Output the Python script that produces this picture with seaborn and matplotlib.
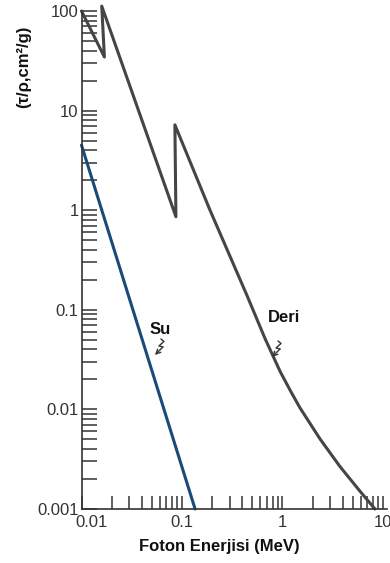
import numpy as np
import pandas as pd
import seaborn as sns
import matplotlib
matplotlib.use("Agg")
import matplotlib.pyplot as plt
import matplotlib.ticker as mticker
import matplotlib.transforms as mtransforms

# Photoelectric mass attenuation coefficient (tau/rho, cm^2/g) vs photon energy (MeV)
su_energy = [0.01, 0.135]
su_tau = [4.5, 0.001]

deri_energy = [0.01, 0.0169, 0.0159, 0.087, 0.085, 0.19, 0.441, 0.670,
               0.944, 1.19, 1.49, 2.36, 3.73, 5.90, 8.32]
deri_tau = [100, 34.5, 112, 0.86, 7.2, 1.0, 0.141, 0.0515,
            0.0242, 0.0156, 0.0104, 0.00506, 0.00267, 0.00151, 0.001]

y_ticks = [0.001, 0.01, 0.1, 1, 10, 100]
y_tick_labels = ["0.001", "0.01", "0.1", "1", "10", "100"]
x_ticks = [0.01, 0.1, 1, 10]
x_tick_labels = ["0.01", "0.1", "1", "10"]

# curve labels: text, text position, arrow tip position
curve_labels = [
    ("Su", (0.060, 0.064), (0.0538, 0.0352)),
    ("Deri", (1.035, 0.083), (0.787, 0.0336)),
]

su_df = pd.DataFrame({"energy": su_energy, "tau": su_tau})
deri_df = pd.DataFrame({"energy": deri_energy, "tau": deri_tau})

sns.set_theme(style="white")
plt.rcParams["font.family"] = ["Liberation Sans", "DejaVu Sans"]

fig = plt.figure(figsize=(3.9, 5.63), dpi=100)
ax = fig.add_axes([81.5 / 390, 1 - 509 / 563, (387 - 81.5) / 390, (509 - 11) / 563])
ax.set_xscale("log")
ax.set_yscale("log")
ax.set_xlim(0.01, 10 ** 1.04)
ax.set_ylim(0.001, 100)

sns.lineplot(data=deri_df, x="energy", y="tau", sort=False, estimator=None,
             color="#454545", linewidth=2.2, ax=ax, clip_on=False)
sns.lineplot(data=su_df, x="energy", y="tau", sort=False, estimator=None,
             color="#1b4a78", linewidth=2.2, ax=ax, clip_on=False)

# axes frame: only left and bottom
for side in ("top", "right"):
    ax.spines[side].set_visible(False)
for side in ("left", "bottom"):
    ax.spines[side].set_color("#333333")
    ax.spines[side].set_linewidth(1.2)

ax.yaxis.set_major_locator(mticker.FixedLocator(y_ticks))
ax.yaxis.set_major_formatter(mticker.FixedFormatter(y_tick_labels))
ax.yaxis.set_minor_locator(mticker.LogLocator(base=10, subs=np.arange(2, 10)))
ax.yaxis.set_minor_formatter(mticker.NullFormatter())
ax.xaxis.set_major_locator(mticker.FixedLocator(x_ticks))
# the first energy label is placed separately, nudged off the corner
ax.xaxis.set_major_formatter(mticker.FixedFormatter([""] + x_tick_labels[1:]))
ax.xaxis.set_minor_locator(mticker.LogLocator(base=10, subs=np.arange(2, 10)))
ax.xaxis.set_minor_formatter(mticker.NullFormatter())

ax.tick_params(axis="y", which="both", direction="in", length=10.8, width=1.1,
               color="#333333", labelsize=12, labelcolor="#333333", pad=2,
               left=True)
ax.tick_params(axis="x", which="both", direction="in", length=9.4, width=1.1,
               color="#333333", labelsize=12, labelcolor="#333333", pad=4,
               bottom=True)

ax.annotate(x_tick_labels[0], xy=(x_ticks[0], 0), xycoords=("data", "axes fraction"),
            xytext=(9.5, -6), textcoords="offset pixels", ha="center", va="top",
            fontsize=12, color="#333333")

ax.set_xlabel("Foton Enerjisi (MeV)", fontsize=12, fontweight="bold", color="#111111")
ax.xaxis.set_label_coords(0.45, -0.0743)
ax.xaxis.label.set_va("center")
ax.set_ylabel("(τ/ρ,cm²/g)", fontsize=12, fontweight="bold", color="#111111")
ax.yaxis.set_label_coords(-0.188, 0.8876)
ax.yaxis.label.set_va("center")

# squiggle pointers from each label down to its curve (pixel offsets from the tip)
squiggle = np.array([[6, 16], [9, 13.5], [4, 9], [8, 8], [1.5, 1.5]])
for text, text_pos, tip in curve_labels:
    ax.text(text_pos[0], text_pos[1], text, fontsize=12, fontweight="bold",
            color="#111111", ha="center", va="center")
    trans = mtransforms.ScaledTranslation(tip[0], tip[1], ax.transData)
    ax.plot(squiggle[:-1, 0], squiggle[:-1, 1], color="#333333", lw=1.0,
            transform=trans, clip_on=False)
    ax.annotate("", xy=tip, xycoords="data",
                xytext=tuple(squiggle[-2]), textcoords="offset pixels",
                arrowprops=dict(arrowstyle="->", color="#333333", lw=1.0,
                                shrinkA=0, shrinkB=0, mutation_scale=8))

fig.savefig("out.png", dpi=100)
